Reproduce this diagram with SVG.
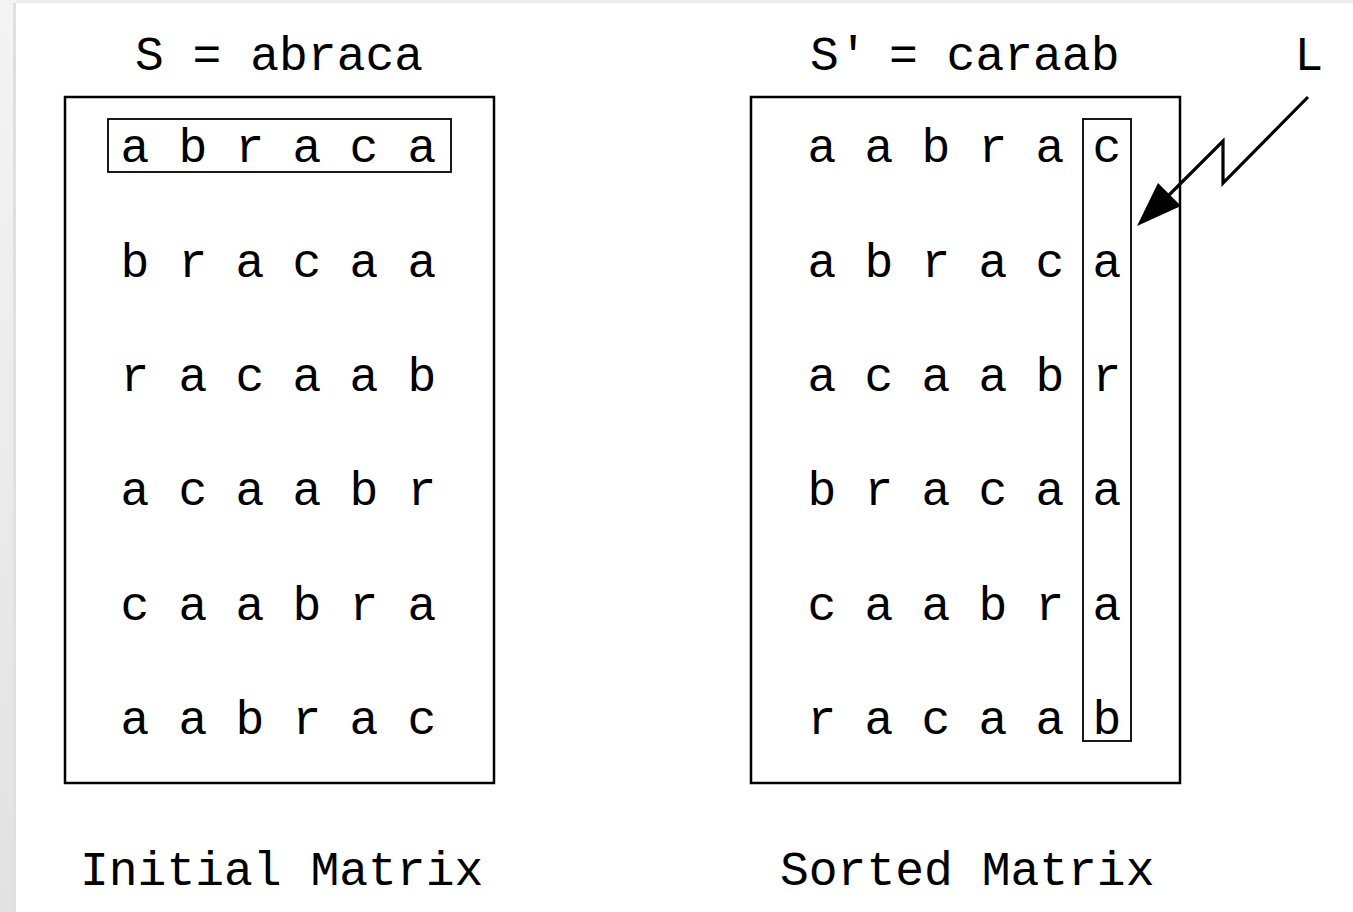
<svg xmlns="http://www.w3.org/2000/svg" width="1353" height="912" viewBox="0 0 1353 912">
  <style>
    .t { font-family: "Nimbus Mono PS", "Courier", "Liberation Mono", "Courier New", monospace; font-size: 48px; fill: #000; }
    .m { text-anchor: middle; }
    .frame { fill: none; stroke: #000; stroke-width: 2.5; }
    .thin { fill: none; stroke: #000; stroke-width: 1.8; }
    .conn { fill: none; stroke: #000; stroke-width: 3.2; stroke-linejoin: miter; }
  </style>
  <defs>
    <linearGradient id="edge" x1="0" y1="0" x2="0" y2="1">
      <stop offset="0" stop-color="#f4f4f4"/>
      <stop offset="1" stop-color="#e2e2e2"/>
    </linearGradient>
  </defs>

  <rect width="1353" height="912" fill="#fff"/>
  <!-- page edge -->
  <rect x="0" y="0" width="1353" height="3" fill="#ececec"/>
  <rect x="0" y="0" width="16" height="912" fill="url(#edge)"/>
  <rect x="13" y="3" width="3" height="909" fill="#e0e0e0"/>

  <!-- initial matrix -->
  <g id="initial">
    <text class="t" x="135" y="70">S = abraca</text>
    <rect class="frame" x="65" y="97" width="429" height="686"/>
    <rect class="thin" x="108" y="119" width="343" height="53"/>
    <text class="t m" x="135 193 250 307 364 422" y="162">abraca</text>
    <text class="t m" x="135 193 250 307 364 422" y="276.5">bracaa</text>
    <text class="t m" x="135 193 250 307 364 422" y="391">racaab</text>
    <text class="t m" x="135 193 250 307 364 422" y="505">acaabr</text>
    <text class="t m" x="135 193 250 307 364 422" y="619.5">caabra</text>
    <text class="t m" x="135 193 250 307 364 422" y="734">aabrac</text>
    <text class="t" x="80" y="885">Initial Matrix</text>
  </g>

  <!-- sorted matrix -->
  <g id="sorted">
    <text class="t" x="810" y="70">S'</text>
    <text class="t" x="889" y="70">= caraab</text>
    <rect class="frame" x="751" y="97" width="429" height="686"/>
    <rect class="thin" x="1083" y="119" width="48" height="622"/>
    <text class="t m" x="822 879 936 993 1050 1107" y="162">aabrac</text>
    <text class="t m" x="822 879 936 993 1050 1107" y="276.5">abraca</text>
    <text class="t m" x="822 879 936 993 1050 1107" y="391">acaabr</text>
    <text class="t m" x="822 879 936 993 1050 1107" y="505">bracaa</text>
    <text class="t m" x="822 879 936 993 1050 1107" y="619.5">caabra</text>
    <text class="t m" x="822 879 936 993 1050 1107" y="734">racaab</text>
    <text class="t" x="780" y="885">Sorted Matrix</text>
  </g>

  <!-- last column label -->
  <g id="label-L">
    <text class="t m" x="1309" y="70">L</text>
  </g>

  <!-- connectors -->
  <g id="connectors">
    <polyline class="conn" points="1308,97 1223,183 1223,141 1162,202"/>
    <polygon points="1137,226 1158,183 1181,206" fill="#000"/>
  </g>
</svg>
